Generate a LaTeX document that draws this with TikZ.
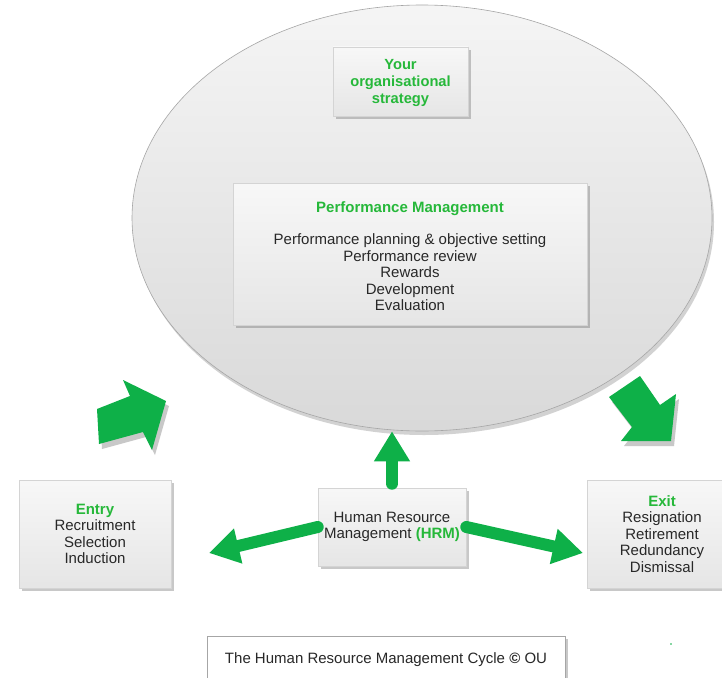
\documentclass[tikz,border=0pt]{standalone}
\usepackage{fontspec}
\setmainfont{Liberation Sans}
\usetikzlibrary{shapes.geometric,arrows.meta,shadows}
\definecolor{hgreen}{RGB}{14,176,72}
\definecolor{tgreen}{RGB}{38,184,58}
\definecolor{txt}{RGB}{40,40,40}
\tikzset{
  box/.style={draw=black!17, line width=0.6pt, top color=black!3, bottom color=black!10,
    drop shadow={shadow xshift=3pt,shadow yshift=-3pt,opacity=0.3,fill=black!70},
    align=center, text=txt, inner sep=0pt,
    font=\fontsize{15}{16.6}\selectfont},
  conn/.style={draw=hgreen, line width=12pt, line cap=round,
    -{Triangle[width=34pt,length=30pt]}},
  blockarrow/.style={fill=hgreen,
    drop shadow={shadow xshift=3pt,shadow yshift=-5pt,opacity=0.3,fill=black!70}}
}
\begin{document}
\begin{tikzpicture}[x=1pt,y=-1pt]
\fill[white] (0,0) rectangle (722,677);
\useasboundingbox (0,0) rectangle (722,677);

% big ellipse
\node[ellipse, draw=black!35, line width=0.6pt, inner sep=0pt,
  minimum width=580pt, minimum height=426pt,
  top color=black!4, bottom color=black!15,
  drop shadow={shadow xshift=2pt,shadow yshift=-4pt,opacity=0.25,fill=black!70}]
  (ell) at (422,218) {};

% strategy
\node[box, minimum width=135pt, minimum height=69pt, text=tgreen,
  font=\bfseries\fontsize{14.7}{17}\selectfont] (strat) at (400.5,81.5)
  {\rule{0pt}{13pt}Your\\organisational\\strategy};

% performance management
\node[box, minimum width=354pt, minimum height=142pt] (perf) at (410,254)
  {\rule{0pt}{16pt}\textcolor{tgreen}{\bfseries Performance Management}\\[15pt]
   Performance planning \& objective setting\\
   Performance review\\ Rewards\\ Development\\ Evaluation};

% HRM
\node[box, minimum width=148pt, minimum height=78pt] (hrm) at (392,527)
  {Human Resource\\Management \textcolor{tgreen}{\bfseries (HRM)}};

% entry / exit
\node[box, minimum width=152pt, minimum height=108pt] (entry) at (95,534)
  {\textcolor{tgreen}{\bfseries Entry}\\Recruitment\\Selection\\Induction};
\node[box, minimum width=150pt, minimum height=108pt] (exit) at (662,534)
  {\textcolor{tgreen}{\bfseries Exit}\\Resignation\\Retirement\\Redundancy\\Dismissal};

% caption
\node[box, draw=black!35, top color=white, bottom color=white,
  minimum width=358pt, minimum height=48pt] (cap) at (386,660)
  {The Human Resource Management Cycle {\bfseries ©} OU};

% connectors
\coordinate (lt) at (209,553);
\coordinate (rt) at (583,553);
\draw[conn, shorten <=4pt] (hrm.north) -- (hrm.north |- ell.south);
\draw[conn] (hrm.west) -- (lt);
\draw[conn] (hrm.east) -- (rt);

% block arrows
\path[blockarrow] (99,444) -- (97,409) -- (130,396) -- (123,380) -- (166,401)
  -- (152,450) -- (143,432) -- cycle;
\path[blockarrow] (609,397) -- (640,376) -- (660,405) -- (676,394) -- (671,441)
  -- (621,441) -- (632,427) -- cycle;

\fill[hgreen] (671,644) circle (0.9);
\end{tikzpicture}
\end{document}
